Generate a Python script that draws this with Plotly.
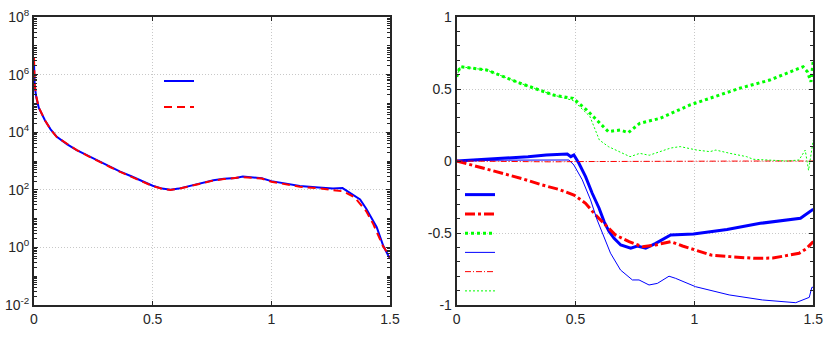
import plotly.graph_objects as go

# ---- left panel data (log scale) ----
xl_blue = [0, 0.003, 0.01, 0.02, 0.046, 0.07, 0.096, 0.14, 0.18, 0.23, 0.278, 0.32, 0.363,
           0.41, 0.447, 0.5, 0.54, 0.575, 0.61, 0.644, 0.7, 0.756, 0.8, 0.85, 0.88, 0.92,
           0.96, 1.0, 1.05, 1.12, 1.2, 1.26, 1.3, 1.33, 1.374, 1.4, 1.43, 1.444, 1.472, 1.5]
yl_blue = [2.5e6, 4.0e5, 1.6e5, 7.1e4, 2.6e4, 1.26e4, 6.9e3, 3.8e3, 2.4e3, 1.48e3, 955, 631, 427,
           295, 219, 138, 110, 100, 110, 129, 174, 214, 240, 257, 288, 269,
           251, 200, 166, 135, 120, 112, 115, 79, 46, 22, 7.6, 5.0, 1.12, 0.40]
xl_red = [0, 0.003, 0.01, 0.02, 0.046, 0.07, 0.096, 0.14, 0.18, 0.23, 0.278, 0.32, 0.363,
          0.41, 0.447, 0.5, 0.54, 0.575, 0.61, 0.644, 0.7, 0.756, 0.8, 0.85, 0.88, 0.92,
          0.96, 1.0, 1.05, 1.12, 1.2, 1.26, 1.3, 1.35, 1.4, 1.43, 1.47, 1.49, 1.5]
yl_red = [4.0e6, 4.5e5, 1.7e5, 7.3e4, 2.6e4, 1.25e4, 6.8e3, 3.8e3, 2.4e3, 1.45e3, 950, 620, 420,
          290, 215, 135, 108, 99, 108, 127, 170, 210, 235, 250, 275, 260,
          245, 190, 158, 128, 112, 100, 89, 56, 18, 6.3, 1.12, 0.63, 0.45]

# ---- right panel data ----
xr_blue_k = [0, 0.1, 0.217, 0.3, 0.377, 0.465, 0.48, 0.493, 0.514, 0.542, 0.57, 0.599, 0.62,
             0.641, 0.662, 0.69, 0.732, 0.76, 0.795, 0.837, 0.9, 0.996, 1.137, 1.277, 1.446, 1.5]
yr_blue_k = [0, 0.01, 0.019, 0.03, 0.042, 0.049, 0.03, 0.042, -0.016, -0.109, -0.224, -0.328, -0.421,
             -0.49, -0.537, -0.583, -0.606, -0.59, -0.606, -0.572, -0.514, -0.507, -0.475, -0.433,
             -0.398, -0.335]

xr_red_k = [0, 0.196, 0.28, 0.36, 0.43, 0.493, 0.542, 0.584, 0.626, 0.668, 0.725, 0.781, 0.837,
            0.9, 0.95, 1.0, 1.07, 1.15, 1.25, 1.33, 1.44, 1.47, 1.5]
yr_red_k = [0, -0.085, -0.125, -0.167, -0.197, -0.236, -0.294, -0.375, -0.444, -0.514, -0.56,
            -0.595, -0.583, -0.56, -0.59, -0.618, -0.653, -0.664, -0.676, -0.674, -0.641, -0.61, -0.56]

xr_green_k = [0, 0.014, 0.126, 0.267, 0.407, 0.49, 0.547, 0.59, 0.638, 0.687, 0.722, 0.77,
              0.855, 0.981, 1.107, 1.19, 1.317, 1.457, 1.475, 1.49, 1.5]
yr_green_k = [0.585, 0.655, 0.632, 0.54, 0.458, 0.435, 0.354, 0.285, 0.204, 0.215, 0.197, 0.262,
              0.296, 0.389, 0.458, 0.505, 0.562, 0.655, 0.62, 0.55, 0.7]

xr_blue_t = [0, 0.2, 0.472, 0.493, 0.528, 0.563, 0.591, 0.62, 0.647, 0.689, 0.739, 0.767, 0.809,
             0.844, 0.893, 0.921, 1.005, 1.146, 1.286, 1.426, 1.455, 1.483, 1.494, 1.5]
yr_blue_t = [0, 0.006, 0.007, -0.028, -0.13, -0.27, -0.41, -0.525, -0.64, -0.757, -0.826, -0.826,
             -0.861, -0.85, -0.8, -0.815, -0.873, -0.93, -0.965, -0.984, -0.965, -0.947, -0.877, -0.877]

xr_red_t = [0, 0.2, 0.4, 0.5, 0.7, 1.0, 1.3, 1.5]
yr_red_t = [0, -0.004, -0.006, -0.004, -0.002, 0, 0, 0]

xr_green_t = [0, 0.014, 0.126, 0.267, 0.407, 0.49, 0.56, 0.6, 0.638, 0.68, 0.729, 0.77, 0.81,
              0.855, 0.9, 0.94, 1.01, 1.065, 1.09, 1.15, 1.22, 1.247, 1.317, 1.388, 1.44,
              1.466, 1.48, 1.5]
yr_green_t = [0.585, 0.655, 0.632, 0.54, 0.458, 0.42, 0.31, 0.146, 0.1, 0.07, 0.03, 0.053, 0.04,
              0.065, 0.09, 0.1, 0.076, 0.065, 0.076, 0.053, 0.03, 0.012, 0.007, 0.0, 0.007,
              0.076, -0.065, 0.146]

# tick labels
xticks = [0, 0.5, 1, 1.5]
xticklabels = ["0", "0.5", "1", "1.5"]
ylog_ticks = [1e-2, 1e0, 1e2, 1e4, 1e6, 1e8]
ylog_labels = ["10<sup>-2</sup>", "10<sup>0</sup>", "10<sup>2</sup>", "10<sup>4</sup>",
               "10<sup>6</sup>", "10<sup>8</sup>"]
ylin_ticks = [-1, -0.5, 0, 0.5, 1]
ylin_labels = ["-1", "-0.5", "0", "0.5", "1"]

# minor ticks of the log axis: 1..9 x 10^k
ylog_minor = [m * 10.0 ** k for k in range(-2, 8) for m in range(1, 10)]

BLUE, RED, GREEN = "#0000ff", "#ff0000", "#00ff00"
AX = "#262626"

fig = go.Figure()

# left panel
fig.add_trace(go.Scatter(x=xl_blue, y=yl_blue, mode="lines", name=" ",
                         line=dict(color=BLUE, width=2), xaxis="x", yaxis="y", legend="legend"))
fig.add_trace(go.Scatter(x=xl_red, y=yl_red, mode="lines", name=" ",
                         line=dict(color=RED, width=2, dash="8px,5px"), xaxis="x", yaxis="y",
                         legend="legend"))

# right panel
right = [
    (xr_blue_k, yr_blue_k, BLUE, 3, "solid"),
    (xr_red_k, yr_red_k, RED, 3, "10px,3px,3px,3px"),
    (xr_green_k, yr_green_k, GREEN, 3, "3px,3px"),
    (xr_blue_t, yr_blue_t, BLUE, 1, "solid"),
    (xr_red_t, yr_red_t, RED, 1, "6px,2px,1px,2px"),
    (xr_green_t, yr_green_t, GREEN, 1, "2px,2px"),
]
for xs, ys, c, w, d in right:
    fig.add_trace(go.Scatter(x=xs, y=ys, mode="lines", name=" ",
                             line=dict(color=c, width=w, dash=d),
                             xaxis="x2", yaxis="y2", legend="legend2"))

axis_common = dict(showline=True, linecolor=AX, linewidth=2, mirror="allticks",
                   ticks="inside", ticklen=4, tickcolor=AX, tickwidth=1,
                   showgrid=True, gridcolor="#c8c8c8", griddash="1px,2px", gridwidth=1,
                   zeroline=False, automargin=False, ticklabeloverflow="allow",
                   tickfont=dict(family="Liberation Sans", size=14, color=AX))

fig.update_layout(
    width=830, height=359,
    margin=dict(l=0, r=0, t=0, b=0, autoexpand=False),
    paper_bgcolor="white", plot_bgcolor="white",
    xaxis=dict(domain=[34/830, 390/830], range=[0, 1.5], tickmode="array",
               tickvals=xticks, ticktext=xticklabels, anchor="y", **axis_common),
    yaxis=dict(domain=[1-305/359, 1-17/359], type="log", range=[-2, 8], tickmode="array",
               tickvals=ylog_ticks, ticktext=ylog_labels, anchor="x",
               minor=dict(ticks="inside", ticklen=3, tickcolor=AX, tickmode="array",
                          tickvals=ylog_minor, showgrid=False),
               **axis_common),
    xaxis2=dict(domain=[456.7/830, 813.3/830], range=[0, 1.5], tickmode="array",
                tickvals=xticks, ticktext=xticklabels, anchor="y2", **axis_common),
    yaxis2=dict(domain=[1-305/359, 1-17/359], range=[-1, 1], tickmode="array",
                tickvals=ylin_ticks, ticktext=ylin_labels, anchor="x2",
                minor=dict(ticks="inside", ticklen=3, tickcolor=AX, dtick=0.1, showgrid=False),
                **axis_common),
    legend=dict(x=159/830, y=1-63/359, xanchor="left", yanchor="top",
                bgcolor="rgba(0,0,0,0)", font=dict(size=17.7)),
    legend2=dict(x=460/830, y=1-180/359, xanchor="left", yanchor="top",
                 bgcolor="rgba(0,0,0,0)", font=dict(size=12.5)),
)

# drop the default 8px page margin so the figure sits at the window's corner
fig.write_html("out.html", config={"displayModeBar": False},
               post_script="document.body.style.margin='0px';")
